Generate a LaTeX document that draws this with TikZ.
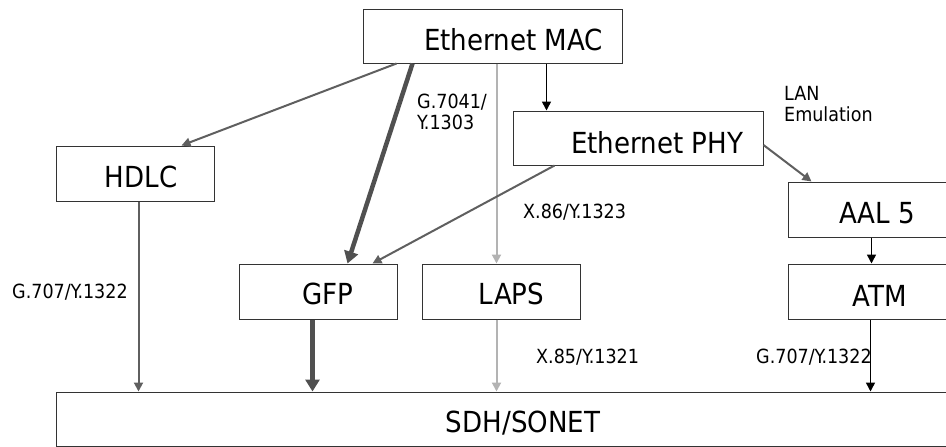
\documentclass[tikz,border=0pt]{standalone}
\usepackage{fontspec}
\setmainfont{DejaVu Sans Condensed}
\usetikzlibrary{arrows.meta}
\definecolor{linegray}{HTML}{5F5F5F}
\definecolor{thickgray}{HTML}{505050}
\definecolor{lightgray}{HTML}{B3B3B3}
\definecolor{boxgray}{HTML}{333333}
\tikzset{
  box/.style={draw=boxgray,line width=1pt,fill=white,minimum height=55pt,inner sep=0pt},
  big/.style={font=\fontsize{29}{33}\selectfont,inner sep=0pt},
  small/.style={font=\fontsize{19.5}{21.5}\selectfont,inner sep=0pt,align=left},
  tip/.style={-{Triangle[length=9pt,width=9pt]}},
}
\begin{document}
\begin{tikzpicture}[x=1pt,y=-1pt]
\useasboundingbox (0,0) rectangle (946,447);
\node[box,minimum width=259pt,minimum height=54pt,label={[big,xshift=21pt,yshift=-4pt]center:Ethernet MAC}] (mac) at (492.5,36) {};
\node[box,minimum width=250pt,minimum height=54pt,label={[big,xshift=19pt,yshift=-5pt]center:Ethernet PHY}] (phy) at (638,138) {};
\node[box,minimum width=158pt,label={[big,xshift=6pt,yshift=-3pt]center:HDLC}] (hdlc) at (135,173.5) {};
\node[box,minimum width=160pt,label={[big,xshift=9pt,yshift=-4pt]center:AAL 5}] (aal) at (868,209.5) {};
\node[box,minimum width=158pt,label={[big,xshift=9.5pt,yshift=-2pt]center:GFP}] (gfp) at (318,291.5) {};
\node[box,minimum width=158pt,label={[big,xshift=10.5pt,yshift=-2pt]center:LAPS}] (laps) at (501,291.5) {};
\node[box,minimum width=160pt,label={[big,xshift=12pt,yshift=-4pt]center:ATM}] (atm) at (868,291.5) {};
\node[box,minimum width=892pt,minimum height=54pt,label={[big,xshift=21pt,yshift=-4pt]center:SDH/SONET}] (sdh) at (502,419) {};
\node[small,anchor=west] (g7041) at (417,112) {G.7041/\\Y.1303};
\node[small,anchor=west] (x86) at (523,212) {X.86/Y.1323};
\node[small,anchor=west] (g707a) at (12,292) {G.707/Y.1322};
\node[small,anchor=west] (x85) at (536,357) {X.85/Y.1321};
\node[small,anchor=west] (g707b) at (756,357) {G.707/Y.1322};
\node[small,anchor=west] (lane) at (784,104) {LAN\\Emulation};
\draw[tip,linegray,line width=2pt] ([xshift=34pt]mac.south west) -- ([xshift=126pt]hdlc.north west);
\draw[-{Triangle[length=12pt,width=14pt]},thickgray,line width=4.5pt] ([xshift=50pt]mac.south west) -- ([xshift=109pt]gfp.north west);
\draw[tip,lightgray,line width=2pt] ([xshift=134pt]mac.south west) -- ([xshift=75pt]laps.north west);
\draw[tip,black,line width=1.6pt] ([xshift=184pt]mac.south west) -- ([xshift=34pt]phy.north west);
\draw[tip,linegray,line width=2pt] ([xshift=42pt]phy.south west) -- ([xshift=134pt]gfp.north west);
\draw[tip,linegray,line width=2pt] ([yshift=-7pt]phy.east) -- ([xshift=24pt]aal.north west);
\draw[tip,black,line width=1.6pt] ([xshift=84pt]aal.south west) -- ([xshift=84pt]atm.north west);
\draw[tip,linegray,line width=2pt] ([xshift=83pt]hdlc.south west) -- ([xshift=83pt]sdh.north west);
\draw[-{Triangle[length=12pt,width=14pt]},thickgray,line width=4.5pt] ([xshift=74pt]gfp.south west) -- ([xshift=257pt]sdh.north west);
\draw[tip,lightgray,line width=2pt] ([xshift=75pt]laps.south west) -- ([xshift=441pt]sdh.north west);
\draw[tip,black,line width=1.6pt] ([xshift=83pt]atm.south west) -- ([xshift=815pt]sdh.north west);
\end{tikzpicture}
\end{document}
